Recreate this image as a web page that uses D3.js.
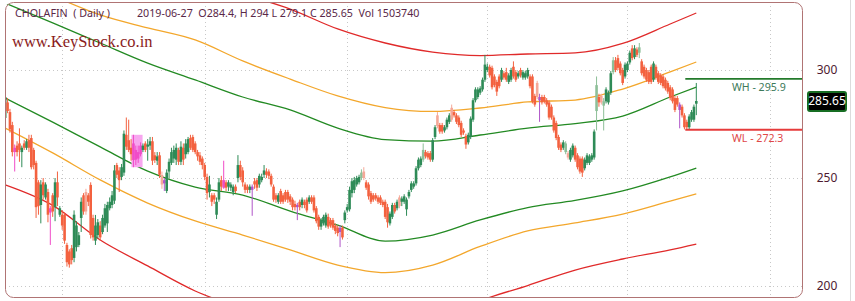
<!DOCTYPE html>
<html lang="en">
<head>
<meta charset="UTF-8">
<title>CHOLAFIN Daily</title>
<script src="https://d3js.org/d3.v7.min.js"></script>
<style>
  body { margin: 0; background: #fff; }
</style>
</head>
<body>
<div id="chart"></div>
<script>
// daily candles (oldest first)
const opens = [277.8,285,280.5,274.5,264,265,266,262,266,264,267.5,268.5,263,257,248,237.5,248,241,243.5,236,
  242,236.5,248,233,233,233,219,216,217.5,213,218,219,231.5,242,243.5,242,246.8,231.5,221,223.6,
  228,225,228,229,236,237.5,239.5,256,253.5,250.5,252.5,270,267.5,264,266,263,262,265,263,266,
  264.5,265,267,260.5,258,260.5,251.4,249,244,253,257,259,258.5,263,257.5,264,261,262,268.5,269,
  266,262,260.5,259,256,250.5,243.5,242,242,233,240,249,249,248,246,245.5,243.5,246,250,256,
  253.5,247,246,244.5,246,248.5,249,247,249,251.5,253,253,251,246,242,239,244,242,243.5,243.5,
  241.5,240,238,237.5,239,237.5,239,240,239,241,241,236,232,227.5,229,228,232,230.5,230.5,228,
  227,227,227,230.5,235,235.5,243,244.5,247,248,250,253,248,247,243,242,242,241,241,239,
  239,236.5,229,232,237.5,236,241,239,239,235.5,241.5,244.5,246,247.5,254.5,256,258.5,262,261.5,261.5,
  258.5,269,279,274.5,274.5,272,273.5,276,282.5,280.5,279,278,275.5,272,269.5,266.5,269,277,286,287.5,
  289.5,291,295.5,300,301.5,301,297,294.5,297,295.5,298.5,299,294.5,295.5,301.5,299,297,300,296.5,296.5,
  297,297,297,288,294,287.5,287.5,287.5,286,285,283,278,275.5,269,265.5,264,262,261.5,258.5,260.5,
  264,260.5,259,259,254.5,257,257,258.5,259.5,281,287.5,288,283.5,285.5,285,289.5,299,304.5,305.5,303,
  300,297,300,303.5,310,306,309.5,308,304,301.5,300,299,301.5,295.5,301.5,298.5,297.5,297,295.5,294,
  292,291,287,287,284,283,279,276,273.5,277,277,284.4];
const highs = [290,287,282,276,265.5,267,273,265,267.5,268,270,270,264,258,249,249,250,248,245,237,
  243,250,253,237,235,234,220,217,219,235,230,225,241,243,245,243,248,233,232.9,231,
  230,233,238,239,241,244,256,257,255,256.5,272,278,277,268,270,265,265,266.5,266,267,
  268,269,269,262,262,262,253,250,254,259,264,265,266,264,267,266,268,269,270,270,
  267,263,262,260,257,252,251,243,243,241,250,251,258,249,249,248,247,247,260.6,258,
  255,248,247,247,247,250,250,252,252,256,254.5,254,252,247,243,243,245,243,244.5,244.5,
  242.5,241,239.5,238.5,240,241,240,241,242,242,242,237,233,231.5,233,234,233.5,231.5,231.5,229,
  228,228,228,235,238,246,250,250.5,251,251.5,254,255,249,248,244,243,243,242,242,240,
  240,238,234.5,238.5,238.5,240,242,241.5,242.5,241,244.5,248.5,248.5,255.5,259.5,260,266,263,262.5,262.5,
  268.5,274.5,280.5,275.5,275.5,274.5,278,280,284,281.5,280,279,276.5,273,270.5,271,278.5,287,292,292,
  292.5,296.5,307,303,302.5,302,298,295.5,298,301,299.5,301,298.5,301,304,300,299.5,301,300,299.5,
  301,298,298,289,295,289,288.5,288.5,287,286,284,279,276.5,270,266.5,267.5,267,262.5,264,266,
  265,261.5,260,260,259.5,261.5,261,261.5,272.5,297,289,289,287,292,290.5,299.5,306,306,307,304,
  301,303.5,304,309,311.5,311.5,310.5,312.5,305,302.5,301,300,302.5,304,302.5,299.5,298.5,298,296.5,295,
  293,292,288,288,285,284,280,277,279.5,281.5,284,294];
const lows = [277,280,271,260,253,260,257.5,255,263,263,262,254,254,231.5,233,229,240,240,229.5,219,
  232,230,237,232,226,219.5,209,208.5,210,211,216,218,225,233,233,237,222,221,219,222,
  221,224,227,225,235,236,238,250,243.5,249,251,263,262,258,255,256,257,260,262,262,
  258,263,256,257,256,250,245,244,243,250,256,257,256,256,256,256,259,261,263,262,
  261,258,256,254,249,240,241,237,238,231,239,244,245,244,244,244,242,243,248,249,
  246,243,243,243,232.5,245,244,245.5,248,250,250,249.5,246,239,238.5,238,238,238,239,238.5,
  237.5,235,235,230.5,235,236,236,234,238,238,234,229,226,226,228,227,226.5,227,226,224,
  223,218,221.5,229,234,234.5,241,243,246,247,249,249,244.5,240,238,239,239.5,238,237.5,236.5,
  231,227,228,231,233.5,235,236,237,238,232.5,240.5,243.5,245,246.5,253.5,255,257.5,259,258.5,257.5,
  257.5,268,273,270.5,270.5,271,272.5,275,276,278,275,273.5,269,270,263.5,265.5,268,276,285,286.5,
  288.5,290,294.5,299,296.5,291,292,288,291.5,294.5,295.5,294.5,293.5,294.5,296,294.5,296,296.5,295.5,295.5,
  296,291.5,284.5,283,286.5,276,284,284.5,283,277,277,271,267.5,263,262,263,261,258.5,257.5,259.5,
  257.5,254,252,250.5,253.5,256,256,257.5,258.5,272,283,284,272,284.5,284,288.5,298,299,300,297.5,
  293,296,299,302.5,304.5,305,306,305.5,297.5,296,294.5,293.5,293.5,294.5,295.5,293.5,293,291.5,290.5,289,
  286,284.5,280.5,283,273,278,272.5,272.3,272.3,276,276,279.1];
const closes = [287.5,281,272.5,262,262,262,263,264,264,267,264,255,256,236.5,237,247,242,247,233,234,
  234.5,248,241,236,228,221,211,210,212,233,228,223.5,239,234.5,234.5,239,223.6,222.5,228,229.5,
  222.5,231.5,236,237.5,239,242,253.5,251.5,249,255,270.5,264.5,263,261,258.3,258.5,259,261,265,263,
  265.5,267,258,258.3,260,251.5,247,247.5,252.5,257.5,262,263,264,257.5,264.5,258.5,266,268,264,263,
  262,260,257.5,256,250.5,243,247,239,240,239,248,246,245.5,245.5,248,247,246,244,256,250.5,
  248,244.5,244.5,246,244.5,247,245.5,251,250.5,253.5,251.5,251,247,240,240,242,239,239,240,240,
  239,236.5,236.5,236.5,236.5,240,237.5,235,241,239,235,230,227.5,230.5,232,233,227.5,228,227,225.5,
  224.5,225,222.5,234,236.5,244.5,248.5,249,250,250.5,252.5,250,245.5,241.5,239,240,240.5,239,238.5,237.5,
  232,229.5,233.5,237.5,234.5,239,237,240.5,241.5,240,243.5,247.5,247.5,254.5,258.5,259,263,260,259.5,258.5,
  267.5,273.5,274,271.5,271.5,273.5,277,279,277,279,276,274.5,270,271,265.5,270,277.5,286,291,291,
  291.5,295.5,302.5,301.5,297.5,292,293,290,292.5,300,296.5,295.5,297.5,300,297,295.5,298.5,297.5,299,298.5,
  300,292.5,285.5,284,287.5,286,285,285.5,284,278,278,272,268.5,264,263,266.5,266,259.5,263,265,
  258.5,255,253,252.5,258.5,260.5,260,260.5,271.5,293,285,285,285.5,291,289.5,298.5,304.5,300,301,298.5,
  294,302.5,303,308,305.5,310,307,310.5,298.5,297,295.5,294.5,294.5,303,296.5,294.5,294,292.5,291.5,290,
  287,285.5,281.5,284,281.5,279,273.5,273.5,278.5,280.5,283,285.65];

// candles drawn in lighter / highlight colours
const paleIdx = [34,66,150,151,166,176,182,188,224,236,237,249,251,252,256,267];
const pinkIdx = [4,19,54,55,56,57,92];
const pinkBoxIdx = [54,55,56,57];
const purpleIdx = [67,104,123,141,225,284];

// band curves sampled at these candle indices
const bandIdx = [0,20,40,60,80,100,120,140,160,180,200,220,240,260,280,291];
const redUpper = [371.8,363.9,356.5,349.1,342.6,335.2,328.2,319,312.5,308.3,306.7,307.4,307.9,312.3,321.3,326.4];
const orangeUpper = [343.5,334.3,325.5,319.5,313.9,304.2,295.8,288,282.6,280.8,282.4,285.2,286.1,291.2,299.1,303.7];
const greenUpper = [331,321.8,312.5,303.2,295.4,287.5,281.5,273.1,267.8,267.1,269.9,273.1,275.2,278.7,287.5,292.1];
const greenLower = [287,275.9,264.4,253.2,245.8,242.1,234.7,228.2,220.8,223.6,230.6,236.3,239.6,244,250.5,254.6];
const orangeLower = [273.1,261.6,249.1,238.4,230.1,223.6,216.7,209.7,206.2,209.7,218.3,225.5,229.2,233.3,239.3,242.6];
const redLower = [246.8,237.3,221.3,209.3,197.7,189.4,181.9,178.5,177.1,182.4,193.1,200.2,207.4,212.5,216.7,219.4];

const gridIdx = [24, 84, 144, 203, 262, 322];
const priceTicks = [200, 250, 300];
const weekStart = 287;
const weekHigh = 295.9;
const weekLow = 272.3;
const lastPrice = 285.65;
const titleText = "CHOLAFIN  ( Daily )";
const infoText = "2019-06-27  O284.4, H 294 L 279.1 C 285.65  Vol 1503740";
const siteText = "www.KeyStock.co.in";

const width = 855, height = 301;
const plot = { left: 5, top: 2, right: 802, bottom: 297 };
const uiFont = 'Noto Sans, sans-serif';

const x = d3.scaleLinear().domain([0, closes.length - 1]).range([5.2, 696.3]);
const y = d3.scaleLinear().domain([200, 300]).range([286, 70]);

const svg = d3.select('#chart').append('svg')
    .attr('width', width)
    .attr('height', height)
    .style('display', 'block');

svg.append('defs').append('clipPath').attr('id', 'plotClip')
    .append('rect')
    .attr('x', plot.left).attr('y', plot.top)
    .attr('width', plot.right - plot.left).attr('height', plot.bottom - plot.top)
    .attr('rx', 8);

// grid
const grid = svg.append('g').attr('clip-path', 'url(#plotClip)');
grid.selectAll('line.h').data(priceTicks).join('line')
    .attr('class', 'h')
    .attr('x1', plot.left).attr('x2', plot.right)
    .attr('y1', d => Math.round(y(d)) + 0.5).attr('y2', d => Math.round(y(d)) + 0.5)
    .attr('stroke', '#c8c8c8').attr('stroke-dasharray', '1,3');
grid.selectAll('line.v').data(gridIdx).join('line')
    .attr('class', 'v')
    .attr('x1', d => Math.round(x(d)) + 0.5).attr('x2', d => Math.round(x(d)) + 0.5)
    .attr('y1', plot.top).attr('y2', plot.bottom)
    .attr('stroke', '#c8c8c8').attr('stroke-dasharray', '1,3');

// bands
const bands = [
    { vals: redUpper, color: '#e02a2a' },
    { vals: redLower, color: '#e02a2a' },
    { vals: orangeUpper, color: '#f3a72c' },
    { vals: orangeLower, color: '#f3a72c' },
    { vals: greenUpper, color: '#238a23' },
    { vals: greenLower, color: '#238a23' }
];
const bandLine = d3.line()
    .x((d, i) => x(bandIdx[i]))
    .y(d => y(d))
    .curve(d3.curveMonotoneX);
const plotG = svg.append('g').attr('clip-path', 'url(#plotClip)');
plotG.selectAll('path.band').data(bands).join('path')
    .attr('class', 'band')
    .attr('d', d => bandLine(d.vals))
    .attr('fill', 'none')
    .attr('stroke', d => d.color)
    .attr('stroke-width', 1.3);

// pink highlight box
const boxHi = d3.max(pinkBoxIdx, i => highs[i]);
const boxLo = d3.min(pinkBoxIdx, i => lows[i]);
plotG.append('rect')
    .attr('x', x(pinkBoxIdx[0]) - 2)
    .attr('width', x(pinkBoxIdx[pinkBoxIdx.length - 1]) - x(pinkBoxIdx[0]) + 4)
    .attr('y', y(boxHi))
    .attr('height', y(boxLo) - y(boxHi))
    .attr('fill', '#f7a6ef');

// candles
function candleColor(i) {
    if (pinkIdx.includes(i)) return '#f04cc8';
    if (purpleIdx.includes(i)) return '#b055c8';
    const up = closes[i] >= opens[i];
    if (paleIdx.includes(i)) return up ? '#8dbf98' : '#f5a898';
    return up ? '#2e8b57' : '#f3613f';
}
const candles = plotG.selectAll('g.candle').data(d3.range(closes.length)).join('g')
    .attr('class', 'candle');
candles.append('line')
    .attr('x1', i => x(i)).attr('x2', i => x(i))
    .attr('y1', i => y(highs[i])).attr('y2', i => y(lows[i]))
    .attr('stroke', candleColor).attr('stroke-width', 1);
candles.append('rect')
    .attr('x', i => x(i) - 1.3)
    .attr('width', 2.6)
    .attr('y', i => y(Math.max(opens[i], closes[i])))
    .attr('height', i => Math.max(1, Math.abs(y(opens[i]) - y(closes[i]))))
    .attr('fill', candleColor);

// weekly high / low lines
svg.append('line')
    .attr('x1', x(weekStart) - 1.5).attr('x2', plot.right)
    .attr('y1', y(weekHigh)).attr('y2', y(weekHigh))
    .attr('stroke', '#237a2b').attr('stroke-width', 1.6);
svg.append('line')
    .attr('x1', x(weekStart) - 1.5).attr('x2', plot.right)
    .attr('y1', y(weekLow)).attr('y2', y(weekLow))
    .attr('stroke', '#e63b3b').attr('stroke-width', 2);
svg.append('text')
    .attr('x', 732).attr('y', y(weekHigh) + 12.5)
    .attr('font-family', uiFont).attr('font-size', 10.6)
    .attr('fill', '#3d7a5a')
    .text('WH - ' + weekHigh);
svg.append('text')
    .attr('x', 732).attr('y', y(weekLow) + 12.5)
    .attr('font-family', uiFont).attr('font-size', 10.6)
    .attr('fill', '#e04848')
    .text('WL - ' + weekLow);

// plot border
svg.append('rect')
    .attr('x', plot.left + 0.5).attr('y', plot.top + 0.5)
    .attr('width', plot.right - plot.left).attr('height', plot.bottom - plot.top)
    .attr('rx', 8)
    .attr('fill', 'none')
    .attr('stroke', '#b07474');
svg.append('line')
    .attr('x1', 850.5).attr('x2', 850.5).attr('y1', 0).attr('y2', height)
    .attr('stroke', '#dcdcdc');

// price axis
const axis = svg.append('g')
    .attr('transform', `translate(${plot.right},0)`)
    .call(d3.axisRight(y).tickValues(priceTicks).tickSize(0).tickFormat(d3.format('d')));
axis.select('.domain').remove();
axis.selectAll('text')
    .attr('x', 25).attr('text-anchor', 'middle')
    .attr('font-family', uiFont).attr('font-size', 12)
    .attr('fill', '#4e1a30');

// last price marker
svg.append('rect')
    .attr('x', 808).attr('y', y(lastPrice) - 9)
    .attr('width', 38).attr('height', 19).attr('rx', 2)
    .attr('fill', '#000').attr('stroke', '#176d23').attr('stroke-width', 2);
svg.append('text')
    .attr('x', 827).attr('y', y(lastPrice) + 4.5)
    .attr('text-anchor', 'middle')
    .attr('font-family', uiFont).attr('font-size', 12)
    .attr('fill', '#fff')
    .text(lastPrice);

// header
svg.append('text')
    .attr('x', 15).attr('y', 17)
    .attr('font-family', uiFont).attr('font-size', 10.7)
    .attr('fill', '#5a2848').style('white-space', 'pre')
    .text(titleText);
svg.append('text')
    .attr('x', 137).attr('y', 17)
    .attr('font-family', uiFont).attr('font-size', 10.7)
    .attr('fill', '#5a2848').style('white-space', 'pre')
    .text(infoText);
svg.append('text')
    .attr('x', 12).attr('y', 47)
    .attr('font-family', 'Liberation Serif, serif').attr('font-size', 16.5)
    .attr('fill', '#8a1c1c')
    .text(siteText);
</script>
</body>
</html>
